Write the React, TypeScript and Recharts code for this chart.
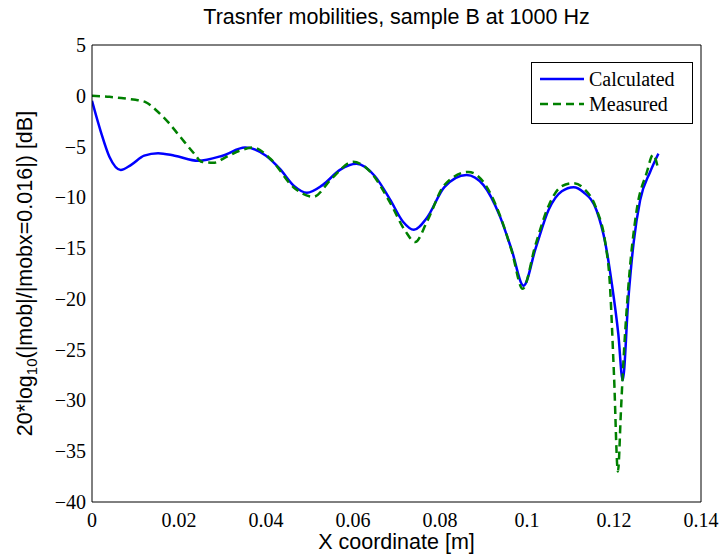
import { LineChart, Line, XAxis, YAxis, Legend } from "recharts";

// Calculated mobility (blue, solid)
const calcX = [
  0, 0.002, 0.004, 0.0066, 0.009, 0.012, 0.0152, 0.019, 0.0244, 0.03, 0.0352, 0.04,
  0.0432, 0.0465, 0.0494, 0.053, 0.057, 0.0608, 0.065, 0.0685, 0.0715, 0.074, 0.077,
  0.081, 0.0861, 0.09, 0.0938, 0.0965, 0.0992, 0.102, 0.105, 0.108, 0.1107, 0.113,
  0.116, 0.118, 0.1195, 0.121, 0.122, 0.1233, 0.1245, 0.126, 0.1283, 0.1302,
];
const calcY = [
  -0.5, -3.5, -6.0, -7.3, -6.8, -5.9, -5.65, -5.9, -6.4, -5.9, -5.1, -5.9,
  -7.2, -8.9, -9.55, -8.8, -7.3, -6.7, -7.9, -10.2, -12.4, -13.2, -12.0,
  -9.0, -7.8, -8.8, -11.9, -15.2, -18.7, -15.0, -11.2, -9.4, -9.0, -9.5,
  -11.3, -14.5, -18.5, -23.5, -28.0, -20.0, -14.5, -10.3, -7.5, -5.7,
];

// Measured mobility (green, dashed)
const measX = [
  0, 0.004, 0.0072, 0.01, 0.0122, 0.0152, 0.0175, 0.0202, 0.0237, 0.0252, 0.0279,
  0.031, 0.034, 0.0371, 0.041, 0.0463, 0.0509, 0.055, 0.06, 0.064, 0.0685, 0.072,
  0.0743, 0.077, 0.081, 0.0865, 0.09, 0.0938, 0.0965, 0.099, 0.102, 0.105, 0.108,
  0.1107, 0.113, 0.116, 0.118, 0.119, 0.12, 0.1209, 0.1216, 0.122, 0.1233, 0.1252,
  0.1275, 0.129, 0.1302,
];
const measY = [
  0, -0.1, -0.25, -0.4, -0.6, -1.6, -2.6, -4.0, -5.8, -6.5, -6.6,
  -6.0, -5.4, -5.1, -6.2, -9.0, -9.95, -8.2, -6.5, -7.5, -10.5, -13.3,
  -14.4, -12.4, -8.8, -7.5, -8.5, -11.8, -15.3, -19.0, -14.6, -10.8, -8.9,
  -8.6, -9.1, -11.2, -14.5, -18.2, -27.5, -37.0, -31.0, -27.5, -18.8, -11.3,
  -7.6, -5.8, -7.3,
];

const xTicks = [0, 0.02, 0.04, 0.06, 0.08, 0.1, 0.12, 0.14];
const yTicks = [5, 0, -5, -10, -15, -20, -25, -30, -35, -40];

const title = "Trasnfer mobilities, sample B at 1000 Hz";
const xLabel = "X coordinate [m]";

const calcData = calcX.map((x, i) => ({ x, y: calcY[i] }));
const measData = measX.map((x, i) => ({ x, y: measY[i] }));

const SERIF = "Liberation Serif";
const SANS = "Liberation Sans";
const LABEL_SIZE = 21.5;

const fmt = (v: number) => String(v).replace("-", "\u2212");
const serifStyle = { fontFamily: SERIF, fontSize: 20 };
const sansStyle = { fontFamily: SANS, fontSize: LABEL_SIZE };

function XTick({ x, y, payload }: any) {
  return (
    <text x={x} y={y} dy={15} textAnchor="middle" fill="#000" style={serifStyle}>
      {fmt(payload.value)}
    </text>
  );
}

function YTick({ x, y, payload }: any) {
  return (
    <text x={x} y={y} dy={7} textAnchor="end" fill="#000" style={serifStyle}>
      {fmt(payload.value)}
    </text>
  );
}

function YLabel({ viewBox }: any) {
  const cy = viewBox.y + viewBox.height / 2;
  const cx = 32;
  return (
    <text
      x={cx}
      y={cy}
      transform={`rotate(-90, ${cx}, ${cy})`}
      textAnchor="middle"
      fill="#000"
      style={sansStyle}
    >
      20*log
      <tspan style={{ fontSize: 15 }} dy={5}>10</tspan>
      <tspan dy={-5}>(|mob|/|mobx=0.016|) [dB]</tspan>
    </text>
  );
}

function XLabel({ viewBox }: any) {
  return (
    <text x={viewBox.x + viewBox.width / 2} y={549} textAnchor="middle" fill="#000" style={sansStyle}>
      {xLabel}
    </text>
  );
}

function TitleLabel({ viewBox }: any) {
  return (
    <text x={viewBox.x + viewBox.width / 2} y={24} textAnchor="middle" fill="#000" style={sansStyle}>
      {title}
    </text>
  );
}

function LegendBox({ payload }: any) {
  return (
    <div
      style={{
        width: 162,
        height: 62,
        border: "1px solid #000",
        background: "#fff",
        boxSizing: "border-box",
        position: "relative",
      }}
    >
      {(payload ?? []).map((p: any, i: number) => (
        <div
          key={p.value}
          style={{ position: "absolute", left: 7, top: 4 + i * 25, height: 24, display: "flex", alignItems: "center" }}
        >
          <svg width={46} height={24}>
            <line
              x1={1}
              x2={45}
              y1={12}
              y2={12}
              stroke={p.color}
              strokeWidth={2.5}
              strokeDasharray={p.payload?.strokeDasharray}
            />
          </svg>
          <span style={{ fontFamily: SERIF, fontSize: 20, marginLeft: 4, color: "#000", lineHeight: "24px" }}>
            {p.value}
          </span>
        </div>
      ))}
    </div>
  );
}

export default function App() {
  return (
    <div style={{ position: "absolute", left: 0, top: 0, background: "#fff" }}>
      <LineChart width={725} height={556} margin={{ top: 45, right: 24, bottom: 24, left: 42 }}>
        <XAxis
          dataKey="x"
          type="number"
          domain={[0, 0.14]}
          ticks={xTicks}
          tick={XTick}
          tickLine={false}
          tickSize={0}
          tickMargin={10}
          height={30}
          axisLine={{ stroke: "#000" }}
          label={<XLabel />}
          allowDataOverflow
        />
        <XAxis
          xAxisId="xb"
          dataKey="x"
          type="number"
          domain={[0, 0.14]}
          ticks={xTicks}
          mirror
          tick={false}
          tickSize={5}
          tickLine={{ stroke: "#000" }}
          axisLine={false}
          allowDataOverflow
        />
        <XAxis
          xAxisId="xt"
          orientation="top"
          dataKey="x"
          type="number"
          domain={[0, 0.14]}
          ticks={xTicks}
          mirror
          tick={false}
          tickSize={5}
          tickLine={{ stroke: "#000" }}
          axisLine={{ stroke: "#000" }}
          label={<TitleLabel />}
          allowDataOverflow
        />
        <YAxis
          type="number"
          domain={[-40, 5]}
          ticks={yTicks}
          tick={YTick}
          tickLine={false}
          tickSize={0}
          tickMargin={6}
          width={50}
          axisLine={{ stroke: "#000" }}
          label={<YLabel />}
          allowDataOverflow
        />
        <YAxis
          yAxisId="yl"
          type="number"
          domain={[-40, 5]}
          ticks={yTicks}
          mirror
          tick={false}
          tickSize={5}
          tickLine={{ stroke: "#000" }}
          axisLine={false}
          allowDataOverflow
        />
        <YAxis
          yAxisId="yr"
          orientation="right"
          type="number"
          domain={[-40, 5]}
          ticks={yTicks}
          mirror
          tick={false}
          tickSize={5}
          tickLine={{ stroke: "#000" }}
          axisLine={{ stroke: "#000" }}
          allowDataOverflow
        />
        <Legend
          layout="horizontal"
          verticalAlign="middle"
          align="center"
          wrapperStyle={{ left: 531, top: 62, width: 162, height: 62 }}
          content={<LegendBox />}
        />
        <Line
          data={calcData}
          dataKey="y"
          name="Calculated"
          type="monotone"
          stroke="#0000ff"
          strokeWidth={2.5}
          dot={false}
          activeDot={false}
          isAnimationActive={false}
        />
        <Line
          data={measData}
          dataKey="y"
          name="Measured"
          type="monotone"
          stroke="#008000"
          strokeWidth={2.5}
          strokeDasharray="8 5"
          dot={false}
          activeDot={false}
          isAnimationActive={false}
        />
      </LineChart>
    </div>
  );
}
